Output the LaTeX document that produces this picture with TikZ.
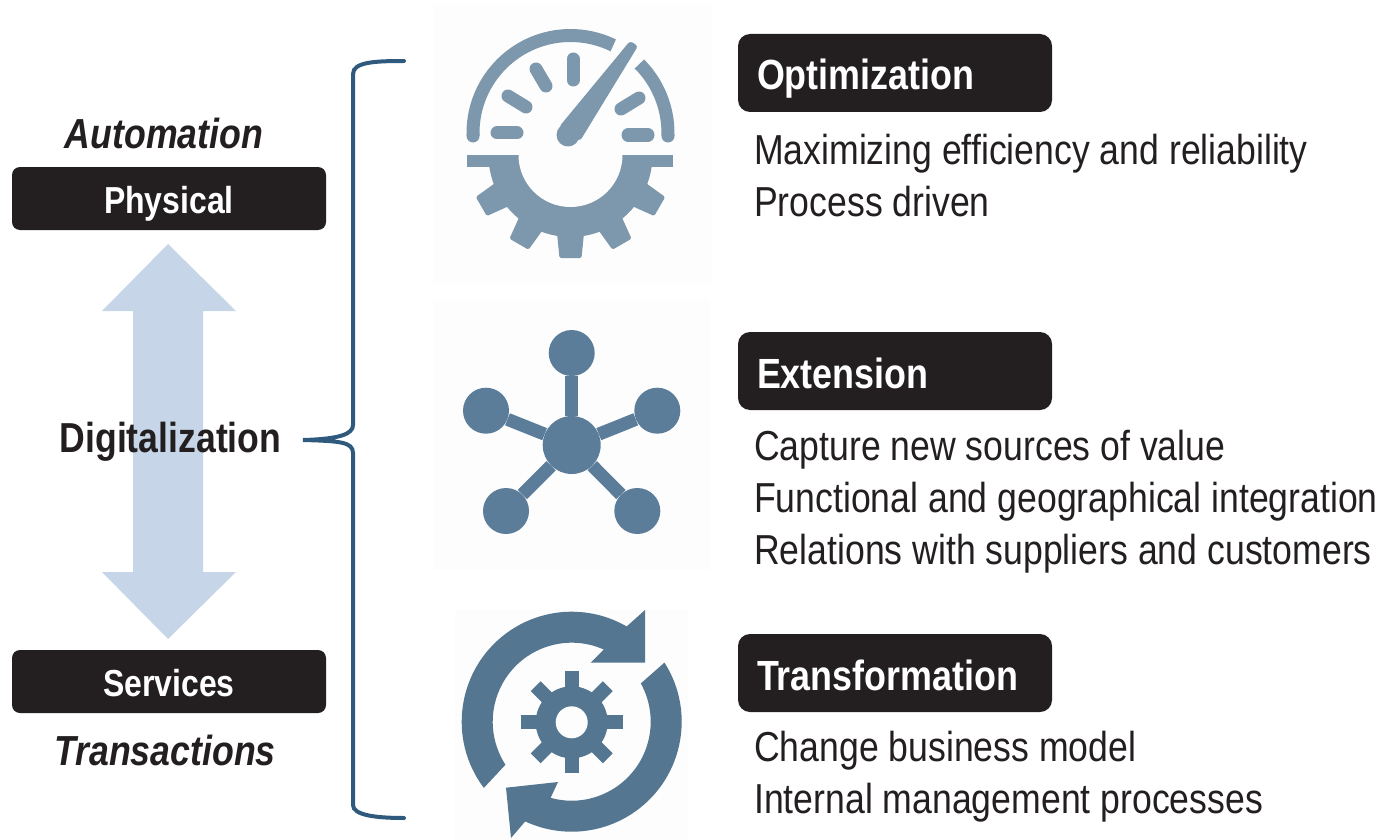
\documentclass[tikz,border=0pt]{standalone}
\usepackage{fontspec}
\setmainfont{Liberation Sans}[FakeStretch=0.85]
\definecolor{ink}{HTML}{231F20}
\definecolor{gaugecol}{HTML}{7D97AC}
\definecolor{netcol}{HTML}{5B7D9A}
\definecolor{cyclecol}{HTML}{557690}
\definecolor{bracecol}{HTML}{2F5A7E}
\definecolor{arrowcol}{HTML}{C6D6E8}
\definecolor{iconbg}{HTML}{FDFDFD}
\tikzset{
  smallbar/.style={fill=ink,draw=none,rounded corners=8pt,minimum width=314pt,minimum height=63pt,inner sep=0pt,text=white,text height=29pt,text depth=0pt,font=\fontsize{37.6}{40}\selectfont\bfseries},
  headbar/.style={fill=ink,draw=none,rounded corners=12pt,minimum width=314pt,minimum height=78pt,inner sep=0pt,text=white,text height=34pt,text depth=0pt,font=\fontsize{42.2}{44}\selectfont\bfseries,text width=276pt,align=left},
  bodytext/.style={anchor=west,inner sep=0pt,text=ink,align=left,font=\fontsize{41.9}{52}\selectfont},
  slant/.style={inner sep=0pt,anchor=base,text=ink,font=\fontsize{42}{44}\selectfont\bfseries\itshape},
  tick/.style={line width=13pt,line cap=round,draw=gaugecol},
  spoke/.style={line width=13pt,draw=netcol},
  hub/.style={circle,fill=netcol,draw=none,inner sep=0pt},
  bracket/.style={line width=4pt,draw=bracecol,line cap=round}
}
\begin{document}
\begin{tikzpicture}[x=1pt,y=-1pt]
\useasboundingbox (0,0) rectangle (1386,840);
% icon backgrounds
\fill[iconbg] (433,5) rectangle (712,283);
\fill[iconbg] (433,300) rectangle (710,570);
\fill[iconbg] (455,610) rectangle (688,840);
% double arrow
\fill[arrowcol] (168,244) -- (236,311) -- (203,311) -- (203,572) -- (236,572) -- (168,639) -- (102,572) -- (133,572) -- (133,311) -- (102,311) -- cycle;
% left labels
\node[slant] (automation) at (164,148) {Automation};
\node[smallbar] (physical) at (169,198.5) {Physical};
\node[inner sep=0pt,anchor=base,text=ink,font=\fontsize{41.9}{44}\selectfont\bfseries] (digital) at (170.5,452) {Digitalization};
\node[smallbar] (services) at (169,681.5) {Services};
\node[slant] (transactions) at (165,765) {Transactions};
% bracket
\coordinate (bt) at (404,61);
\coordinate (bm) at (303,440);
\coordinate (bb) at (404,818);
\draw[bracket] (bt) .. controls (375,61) and (353,62) .. (353,74) -- (353,425) .. controls (353,434) and (340,439) .. (bm) .. controls (340,441) and (353,442) .. (353,453) -- (353,805) .. controls (353,815) and (375,818) .. (bb);
% gauge icon
\draw[line width=13pt,draw=gaugecol] (473,136) -- (473,133) arc[start angle=180,end angle=296,radius=97.5];
\draw[line width=13pt,draw=gaugecol] (639.4,64) arc[start angle=315,end angle=360,radius=97.5] -- (668,136);
\fill[gaugecol] (473,136) circle[radius=6.5];
\fill[gaugecol] (668,136) circle[radius=6.5];
\draw[tick] (497,133) -- (517,133);
\draw[tick] (508,96) -- (526,107);
\draw[tick] (536,69) -- (546,86);
\draw[tick] (573,59) -- (573,80);
\draw[tick] (621,109) -- (639,98);
\draw[tick] (628,135) -- (648,135);
\fill[gaugecol,rounded corners=3pt] (559,127) -- (630,41) -- (638,46) -- (580,141) -- cycle;
\fill[gaugecol] (568,135) circle[radius=11.5];
\fill[gaugecol] (467,155) rectangle (673,167);
\fill[gaugecol] (488.5,155) arc[start angle=180,end angle=0,radius=82] -- cycle;
\foreach \a in {-60,-30,0,30,60}{
  \fill[gaugecol,rotate around={\a:(570.5,155)},rounded corners=1.5pt] (556.5,228) -- (559.5,258) -- (581.5,258) -- (584.5,228) -- cycle;
}
\fill[iconbg] (518.5,155) arc[start angle=180,end angle=0,radius=52] -- cycle;
% network icon
\node[hub,minimum size=58pt] (nc) at (571.7,445) {};
\node[hub,minimum size=46pt] (n1) at (571.7,353) {};
\node[hub,minimum size=46pt] (n2) at (486,410.7) {};
\node[hub,minimum size=46pt] (n3) at (657.3,410.7) {};
\node[hub,minimum size=46pt] (n4) at (506,511) {};
\node[hub,minimum size=46pt] (n5) at (637.3,511) {};
\foreach \n in {n1,n2,n3,n4,n5}{\draw[spoke] (nc) -- (\n);}
% cycle icon
\fill[cyclecol] ([shift={(143:110)}]571.7,721.7) arc[start angle=143,end angle=300,radius=110] -- (645,610) -- (645,662.7) -- (590.7,662.7) -- ([shift={(294:79)}]571.7,721.7) arc[start angle=294,end angle=147,radius=79] -- cycle;
\fill[cyclecol] ([shift={(327.5:110)}]571.7,721.7) arc[start angle=327.5,end angle=475,radius=110] -- (511,838) -- (506,787.7) -- (558,782) -- ([shift={(465.5:79)}]571.7,721.7) arc[start angle=465.5,end angle=331,radius=79] -- cycle;
\fill[cyclecol] (571.7,722.3) circle[radius=36];
\foreach \a in {0,45,...,315}{
  \fill[cyclecol,rotate around={\a:(571.7,722.3)}] (564.7,722.3) rectangle (578.7,671.3);
}
\fill[iconbg] (571.7,722.3) circle[radius=16];
% right column
\node[headbar] (opt) at (895,73) {Optimization};
\node[bodytext] (optt) at (754,176) {Maximizing efficiency and reliability\\Process driven};
\node[headbar] (ext) at (895,371) {Extension};
\node[bodytext] (extt) at (754,502) {Capture new sources of value\\Functional and geographical integration\\Relations with suppliers and customers};
\node[headbar] (tra) at (895,673) {Transformation};
\node[bodytext] (trat) at (754,777) {Change business model\\Internal management processes};
\end{tikzpicture}
\end{document}
